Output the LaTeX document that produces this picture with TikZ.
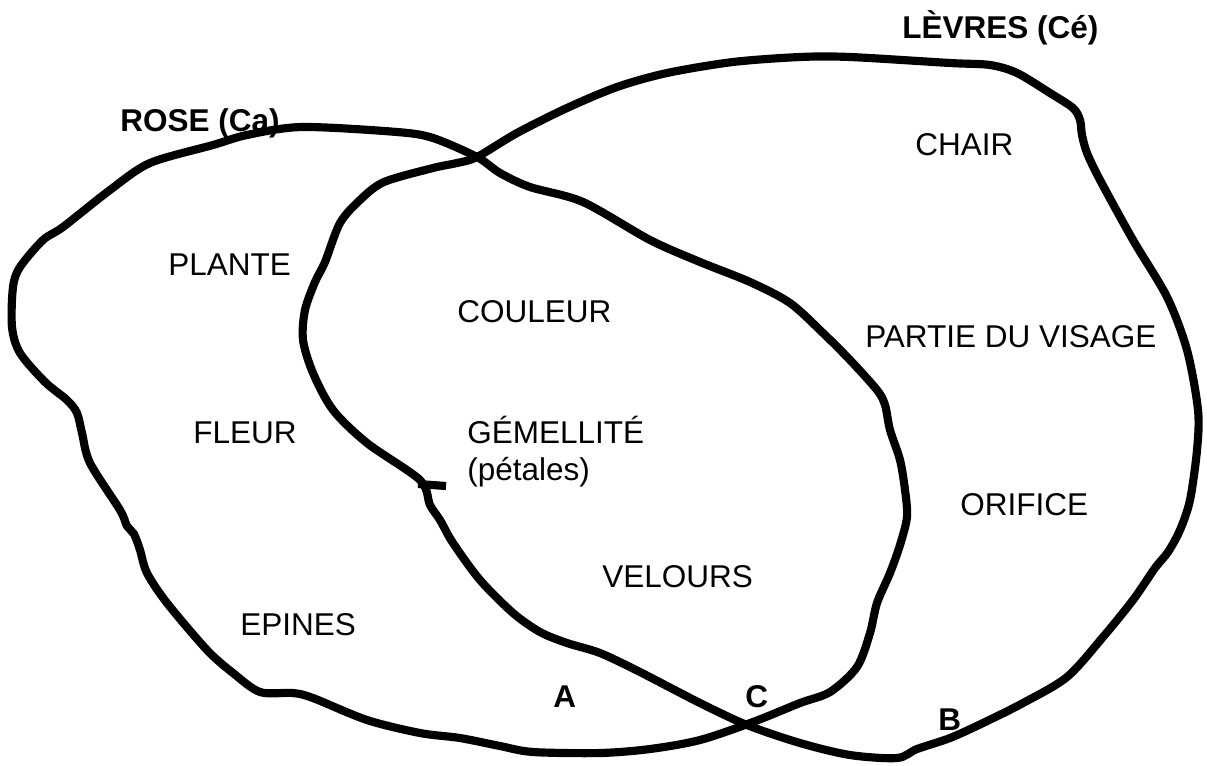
\documentclass[tikz,border=0pt]{standalone}
\usepackage{fontspec}
\setmainfont{Liberation Sans}
\begin{document}
\begin{tikzpicture}[x=0.025cm,y=-0.025cm,
    blob/.style={line width=5.8pt,line join=round},
    lbl/.style={inner sep=0pt,anchor=base west,font=\fontsize{22.4}{26}\selectfont},
    tag/.style={lbl,font=\fontsize{22.4}{26}\selectfont\bfseries}]
  \useasboundingbox (0,0) rectangle (1207,765);
  \draw[blob] plot[smooth cycle,tension=0.5] coordinates {
    (302,127) (397,132) (433,138) (477,157) (500,173) (530,187) (583,202)
    (650,240) (700,262) (750,282) (790,303) (823,333) (850,360) (877,390)
    (885,405) (890,430) (900,460) (905,490) (907,517) (900,545) (890,573)
    (877,603) (870,633) (857,667) (830,692) (800,703) (753,722) (700,740)
    (650,749) (600,753) (533,752) (500,746) (460,738) (420,733) (367,720)
    (313,698) (293,693) (260,692) (233,673) (207,650) (167,603) (147,573)
    (140,550) (134,534) (127,526) (120,510) (90,463) (82,433) (77,413)
    (67,400) (45,382) (20,353) (12,327) (13,287) (20,267) (43,240) (63,227)
    (110,190) (150,163) (213,145) (247,135)};
  \draw[blob] plot[smooth cycle,tension=0.5] coordinates {
    (477,157) (517,133) (567,108) (617,87) (667,73) (733,62) (800,57)
    (850,57) (950,63) (990,65) (1017,73) (1050,93) (1073,108) (1080,120)
    (1082,135) (1087,153) (1100,180) (1133,240) (1167,297) (1187,350)
    (1198,410) (1197,450) (1190,500) (1180,530) (1168,552) (1155,568)
    (1133,600) (1103,637) (1067,677) (1023,703) (983,723) (950,738)
    (917,749) (897,758) (850,755) (800,743) (747,725) (700,703) (640,672)
    (600,653) (567,643) (540,632) (513,613) (480,580) (453,543) (440,520)
    (430,505) (420,480) (367,443) (333,410) (313,373) (303,340) (305,310)
    (315,282) (325,262) (340,223) (360,200) (384,182) (433,168) (457,163)};
  \draw[blob] (418,484) -- (446,486);
  \node[tag] (rose) at (120,131) {ROSE (Ca)};
  \node[tag] (levres) at (902,38) {LÈVRES (Cé)};
  \foreach \n/\x/\y/\t in {chair/915/155/CHAIR, plante/168/275/PLANTE,
      couleur/457/322/COULEUR, fleur/193/443/FLEUR, gem/467/443/GÉMELLITÉ,
      pet/467/480/(pétales), velours/602/587/VELOURS, epines/240/635/EPINES,
      visage/865/347/PARTIE DU VISAGE, orifice/960/515/ORIFICE}
    \node[lbl] (\n) at (\x,\y) {\t};
  \foreach \n/\x/\y in {a/553/707, c/745/707, b/938/730}
    \node[tag] (\n) at (\x,\y) {\MakeUppercase{\n}};
\end{tikzpicture}
\end{document}
